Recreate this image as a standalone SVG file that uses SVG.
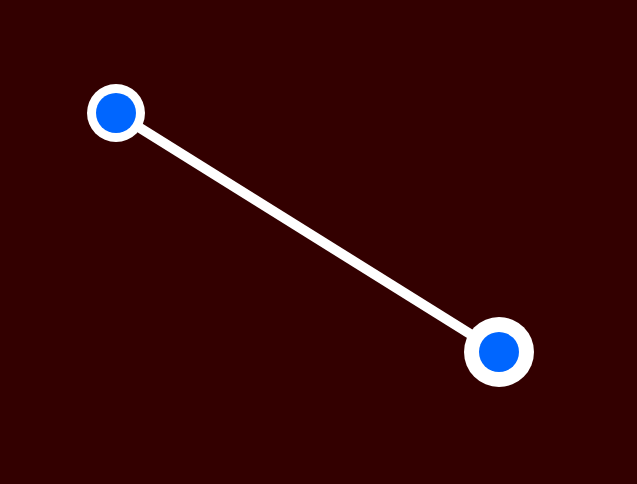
<svg xmlns="http://www.w3.org/2000/svg" width="637" height="484" viewBox="0 0 637 484">
<style>
.ring{fill:#ffffff}
.core{fill:#0066ff}
.edge{stroke:#ffffff;stroke-width:10;fill:none}
</style>
<rect x="0" y="0" width="637" height="484" fill="#330000"/>
<g id="connectors">
<line class="edge" x1="116" y1="113" x2="499" y2="352"/>
</g>
<g id="node-a">
<circle class="ring" cx="116" cy="113" r="29"/>
<circle class="core" cx="116" cy="113" r="20"/>
</g>
<g id="node-b">
<circle class="ring" cx="499" cy="352" r="35"/>
<circle class="core" cx="499" cy="352" r="20"/>
</g>
</svg>
